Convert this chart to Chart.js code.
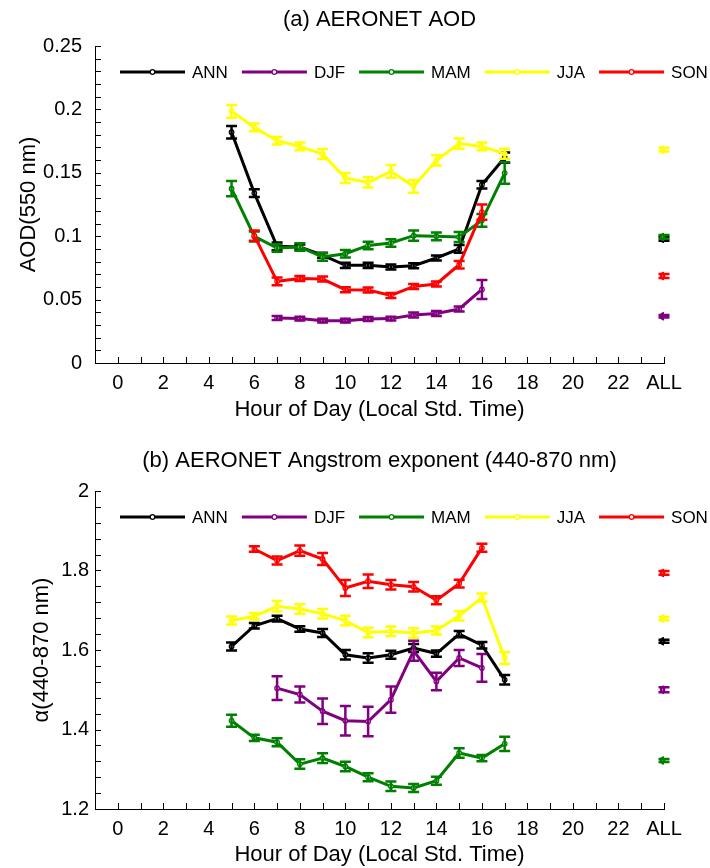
<!DOCTYPE html>
<html>
<head>
<meta charset="utf-8">
<script src="https://cdn.jsdelivr.net/npm/chart.js@4.4.0/dist/chart.umd.min.js"></script>
<style>
  body { margin: 0; background: #fff; }
  canvas { display: block; }
</style>
</head>
<body>
<canvas id="aodChart" width="710" height="436"></canvas>
<canvas id="angChart" width="710" height="432"></canvas>
<script>
// hours of day shared by all series (5..17), ALL plotted at x = 24
const hours = [5, 6, 7, 8, 9, 10, 11, 12, 13, 14, 15, 16, 17];
const seasons = ['ANN', 'DJF', 'MAM', 'JJA', 'SON'];
const colors = ['#000000', '#800080', '#008000', '#ffff00', '#ff0000'];
const allX = 24;

// (a) AOD at 550 nm
const aodANN = [0.182, 0.134, 0.092, 0.0915, 0.085, 0.077, 0.077, 0.0757, 0.0767, 0.0828, 0.090, 0.1406, 0.162];
const aodDJF = [null, null, 0.0355, 0.035, 0.0334, 0.0334, 0.0347, 0.035, 0.0379, 0.039, 0.0426, 0.058, null];
const aodMAM = [0.1375, 0.0998, 0.0907, 0.0915, 0.0836, 0.0862, 0.0927, 0.0946, 0.1004, 0.0999, 0.0994, 0.1125, 0.1498];
const aodJJA = [0.1985, 0.1858, 0.1753, 0.1708, 0.1648, 0.1459, 0.1424, 0.1511, 0.1393, 0.1598, 0.173, 0.1708, 0.165];
const aodSON = [null, 0.1004, 0.0644, 0.0667, 0.0662, 0.0578, 0.0576, 0.0533, 0.0604, 0.0623, 0.0775, 0.119, null];
const aodAll = [0.098, 0.0368, 0.0994, 0.1682, 0.0686];

const aodErrANN = [0.005, 0.003, 0.003, 0.002, 0.002, 0.002, 0.002, 0.002, 0.002, 0.002, 0.003, 0.003, 0.004];
const aodErrDJF = [0, 0, 0.0015, 0.0015, 0.0015, 0.0015, 0.0015, 0.0015, 0.002, 0.002, 0.002, 0.0075, 0];
const aodErrMAM = [0.006, 0.004, 0.003, 0.003, 0.003, 0.003, 0.003, 0.003, 0.004, 0.003, 0.004, 0.005, 0.0085];
const aodErrJJA = [0.005, 0.003, 0.003, 0.003, 0.004, 0.004, 0.004, 0.005, 0.005, 0.004, 0.004, 0.003, 0.004];
const aodErrSON = [0, 0.004, 0.003, 0.002, 0.002, 0.002, 0.002, 0.002, 0.002, 0.002, 0.003, 0.006, 0];
const aodErrAll = [0.0015, 0.001, 0.0015, 0.0015, 0.0015];

// (b) Angstrom exponent 440-870 nm
const angANN = [1.609, 1.661, 1.679, 1.653, 1.643, 1.588, 1.580, 1.588, 1.605, 1.591, 1.640, 1.612, 1.525];
const angDJF = [null, null, 1.504, 1.488, 1.446, 1.422, 1.420, 1.475, 1.598, 1.521, 1.580, 1.555, null];
const angMAM = [1.422, 1.379, 1.368, 1.313, 1.328, 1.307, 1.280, 1.257, 1.253, 1.271, 1.341, 1.328, 1.364];
const angJJA = [1.674, 1.685, 1.710, 1.703, 1.691, 1.674, 1.644, 1.647, 1.643, 1.649, 1.686, 1.732, 1.580];
const angSON = [null, 1.854, 1.825, 1.850, 1.829, 1.756, 1.773, 1.764, 1.759, 1.725, 1.767, 1.857, null];
const angAll = [1.622, 1.500, 1.322, 1.679, 1.794];

const angErrANN = [0.010, 0.007, 0.007, 0.007, 0.010, 0.012, 0.012, 0.010, 0.010, 0.008, 0.008, 0.008, 0.012];
const angErrDJF = [0, 0, 0.030, 0.020, 0.032, 0.037, 0.037, 0.033, 0.025, 0.022, 0.020, 0.035, 0];
const angErrMAM = [0.015, 0.008, 0.010, 0.012, 0.012, 0.012, 0.010, 0.012, 0.010, 0.010, 0.012, 0.008, 0.018];
const angErrJJA = [0.010, 0.008, 0.013, 0.012, 0.012, 0.012, 0.012, 0.012, 0.012, 0.010, 0.012, 0.010, 0.015];
const angErrSON = [0, 0.007, 0.010, 0.013, 0.015, 0.020, 0.017, 0.012, 0.012, 0.010, 0.010, 0.010, 0];
const angErrAll = [0.004, 0.006, 0.004, 0.004, 0.005];

const FONT = '"Liberation Sans", Arial, sans-serif';

// error bars drawn right after each dataset so stacking order follows the lines
const errorBars = {
    id: 'errorBars',
    afterDatasetDraw(chart, args) {
        const ds = chart.data.datasets[args.index];
        if (!ds.errors) return;
        const ctx = chart.ctx;
        const xs = chart.scales.x, ys = chart.scales.y;
        ctx.save();
        ctx.strokeStyle = ds.borderColor;
        ctx.lineWidth = 2.5;
        ds.data.forEach((p, i) => {
            if (p.y === null) return;
            const e = ds.errors[i];
            const x = xs.getPixelForValue(p.x);
            const y1 = ys.getPixelForValue(p.y + e);
            const y2 = ys.getPixelForValue(p.y - e);
            ctx.beginPath();
            ctx.moveTo(x, y1); ctx.lineTo(x, y2);
            ctx.moveTo(x - 5.5, y1); ctx.lineTo(x + 5.5, y1);
            ctx.moveTo(x - 5.5, y2); ctx.lineTo(x + 5.5, y2);
            ctx.stroke();
        });
        ctx.restore();
    }
};

// inward tick marks, legend row and panel title
const decorations = {
    id: 'decorations',
    afterDraw(chart, args, opts) {
        const ctx = chart.ctx;
        const area = chart.chartArea;
        const xs = chart.scales.x, ys = chart.scales.y;
        ctx.save();
        ctx.strokeStyle = '#000';
        ctx.lineWidth = 1;
        ctx.beginPath();
        xs.ticks.forEach(t => {
            const px = Math.round(xs.getPixelForValue(t.value)) + 0.5;
            ctx.moveTo(px, area.bottom);
            ctx.lineTo(px, area.bottom - 6);
        });
        ys.ticks.forEach(t => {
            const py = Math.round(ys.getPixelForValue(t.value)) + 0.5;
            ctx.moveTo(area.left, py);
            ctx.lineTo(area.left + 6, py);
        });
        ctx.stroke();

        // legend
        ctx.font = '17px ' + FONT;
        ctx.textBaseline = 'middle';
        ctx.textAlign = 'left';
        let lx = area.left + 25;
        const ly = area.top + 26;
        seasons.forEach((name, i) => {
            ctx.strokeStyle = colors[i];
            ctx.lineWidth = 3;
            ctx.beginPath();
            ctx.moveTo(lx, ly);
            ctx.lineTo(lx + 65, ly);
            ctx.stroke();
            ctx.beginPath();
            ctx.fillStyle = '#fff';
            ctx.lineWidth = 1.2;
            ctx.arc(lx + 32.5, ly, 2.3, 0, Math.PI * 2);
            ctx.fill();
            ctx.stroke();
            ctx.fillStyle = '#000';
            ctx.fillText(name, lx + 72, ly + 1);
            lx += 72 + ctx.measureText(name).width + 14;
        });

        // panel title
        ctx.font = '22px ' + FONT;
        ctx.textAlign = 'center';
        ctx.fillText(opts.text, (area.left + area.right) / 2, area.top - opts.offset);
        ctx.restore();
    }
};

function buildDatasets(series, errs, allVals, allErrs) {
    const sets = [];
    series.forEach((vals, i) => {
        sets.push({
            label: seasons[i],
            data: hours.map((h, k) => ({ x: h, y: vals[k] })),
            errors: errs[i],
            borderColor: colors[i],
            borderWidth: 3,
            pointRadius: 2.3,
            pointBorderWidth: 1.2,
            pointBackgroundColor: '#fff',
            pointBorderColor: colors[i],
            spanGaps: false,
            tension: 0,
            order: 10 - 2 * i
        });
        sets.push({
            label: seasons[i] + ' ALL',
            data: [{ x: allX, y: allVals[i] }],
            errors: [allErrs[i]],
            borderColor: colors[i],
            showLine: false,
            pointRadius: 3,
            pointBorderWidth: 2.5,
            pointBackgroundColor: '#fff',
            pointBorderColor: colors[i],
            order: 9 - 2 * i
        });
    });
    return sets;
}

function makeChart(id, cfg) {
    const fmt = v => {
        const r = v / cfg.major;
        if (Math.abs(r - Math.round(r)) > 1e-6) return '';
        return String(parseFloat(v.toFixed(3)));
    };
    return new Chart(document.getElementById(id), {
        type: 'line',
        data: { datasets: buildDatasets(cfg.series, cfg.errs, cfg.allVals, cfg.allErrs) },
        options: {
            responsive: false,
            animation: false,
            layout: { padding: { top: cfg.top, right: 46, left: 0, bottom: 0 } },
            plugins: {
                legend: { display: false },
                tooltip: { enabled: false },
                decorations: { text: cfg.title, offset: cfg.titleOffset }
            },
            scales: {
                x: {
                    type: 'linear',
                    min: -1,
                    max: 24,
                    grid: { display: false, drawTicks: false },
                    border: { display: true, color: '#000', width: 1 },
                    ticks: {
                        stepSize: 1,
                        autoSkip: false,
                        maxRotation: 0,
                        padding: 8,
                        color: '#000',
                        font: { family: FONT, size: 20 },
                        callback: v => (v === 24 ? 'ALL' : (v >= 0 && v % 2 === 0 ? String(v) : ''))
                    },
                    title: {
                        display: true,
                        text: 'Hour of Day (Local Std. Time)',
                        color: '#000',
                        font: { family: FONT, size: 22 },
                        padding: { top: 0, bottom: cfg.xTitlePad }
                    },
                    afterFit: s => { s.height = cfg.xHeight; }
                },
                y: {
                    min: cfg.ymin,
                    max: cfg.ymax,
                    grid: { display: false, drawTicks: false },
                    border: { display: true, color: '#000', width: 1 },
                    ticks: {
                        stepSize: cfg.minor,
                        autoSkip: false,
                        padding: cfg.yLabelPad,
                        color: '#000',
                        font: { family: FONT, size: 20 },
                        callback: fmt
                    },
                    title: {
                        display: true,
                        text: cfg.ytitle,
                        color: '#000',
                        font: { family: FONT, size: 22 },
                        padding: { top: cfg.yTitlePad, bottom: 0 }
                    },
                    afterFit: s => { s.width = 95; }
                }
            }
        },
        plugins: [errorBars, decorations]
    });
}

document.addEventListener('DOMContentLoaded', function() {
    makeChart('aodChart', {
        series: [aodANN, aodDJF, aodMAM, aodJJA, aodSON],
        errs: [aodErrANN, aodErrDJF, aodErrMAM, aodErrJJA, aodErrSON],
        allVals: aodAll,
        allErrs: aodErrAll,
        ymin: 0, ymax: 0.25, major: 0.05, minor: 0.01,
        title: '(a) AERONET AOD',
        titleOffset: 26,
        ytitle: 'AOD(550 nm)',
        top: 46, xHeight: 73, xTitlePad: 13, yLabelPad: 13, yTitlePad: 16
    });
    makeChart('angChart', {
        series: [angANN, angDJF, angMAM, angJJA, angSON],
        errs: [angErrANN, angErrDJF, angErrMAM, angErrJJA, angErrSON],
        allVals: angAll,
        allErrs: angErrAll,
        ymin: 1.2, ymax: 2, major: 0.2, minor: 0.04,
        title: '(b) AERONET Angstrom exponent (440-870 nm)',
        titleOffset: 30,
        ytitle: 'α(440-870 nm)',
        top: 55, xHeight: 59, xTitlePad: 0, yLabelPad: 6, yTitlePad: 29
    });
});
</script>
</body>
</html>
